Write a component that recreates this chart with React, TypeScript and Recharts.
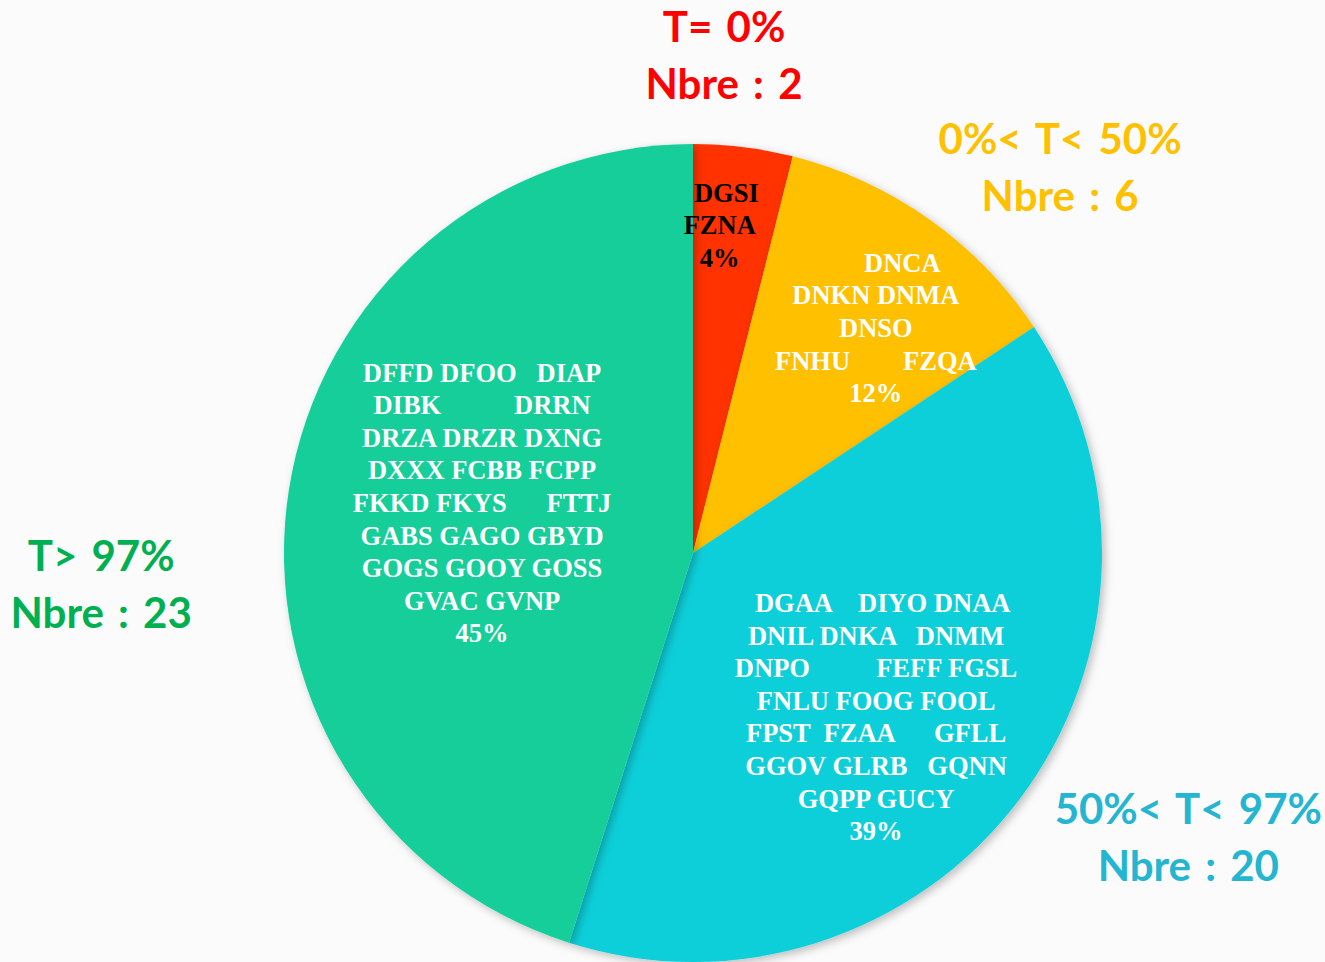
import React from 'react';
import { PieChart, Pie, Cell } from 'recharts';

// categories (title, count line) and slice values
const categories = ['T= 0%', '0%< T< 50%', '50%< T< 97%', 'T> 97%'];
const counts = [2, 6, 20, 23];

// station codes shown inside each slice, one entry per text line
const redCodes = ['  DGSI', 'FZNA'];
const orangeCodes = ['        DNCA', 'DNKN DNMA', 'DNSO', 'FNHU        FZQA'];
const cyanCodes = [
    '  DGAA    DIYO DNAA',
    'DNIL DNKA   DNMM',
    'DNPO          FEFF FGSL',
    'FNLU FOOG FOOL',
    'FPST  FZAA      GFLL',
    'GGOV GLRB   GQNN',
    'GQPP GUCY',
];
const greenCodes = [
    'DFFD DFOO   DIAP',
    'DIBK           DRRN',
    'DRZA DRZR DXNG',
    'DXXX FCBB FCPP',
    'FKKD FKYS      FTTJ',
    'GABS GAGO GBYD',
    'GOGS GOOY GOSS',
    'GVAC GVNP',
];
const sliceCodes = [redCodes, orangeCodes, cyanCodes, greenCodes];

const sliceColors = ['#ff3300', '#ffc000', '#0ecfd9', '#13ce99'];
const titleColors = ['#ff0000', '#ffc000', '#24b5d0', '#00b050'];
const codeColors = ['#000000', '#ffffff', '#ffffff', '#ffffff'];

const data = categories.map((name, i) => ({ name, value: counts[i] }));

// label placement: fraction of the radius and angle tweak (degrees)
const codeLayout = [
    { radius: 0.804, dAngle: 2.4 },
    { radius: 0.709, dAngle: -3.8 },
    { radius: 0.601, dAngle: -4.8 },
    { radius: 0.53, dAngle: -4.5 },
];
const titleLayout = [
    { radius: 1.222, dAngle: 3.5 },
    { radius: 1.304, dAngle: -8.2 },
    { radius: 1.395, dAngle: 7.3 },
    { radius: 1.449, dAngle: 11.8 },
];

const RAD = Math.PI / 180;

const renderLabel = (props: any) => {
    const { cx, cy, midAngle, outerRadius, percent, index } = props;

    const cl = codeLayout[index];
    const a = (midAngle + cl.dAngle) * RAD;
    const r = outerRadius * cl.radius;
    const x = cx + r * Math.cos(a);
    const y = cy - r * Math.sin(a);
    const lines = [...sliceCodes[index], `${Math.round(percent * 100)}%`];
    const lh = 32.6;
    const y0 = y - ((lines.length - 1) * lh) / 2;

    const tl = titleLayout[index];
    const ta = (midAngle + tl.dAngle) * RAD;
    const tr = outerRadius * tl.radius;
    const tx = cx + tr * Math.cos(ta);
    const ty = cy - tr * Math.sin(ta);
    const th = 57;

    return (
        <g key={`lbl-${index}`}>
            <text
                x={x}
                textAnchor="middle"
                fill={codeColors[index]}
                fontFamily="'Liberation Serif', serif"
                fontWeight="bold"
                fontSize={26.5}
                style={{ whiteSpace: 'pre' }}
            >
                {lines.map((l, i) => (
                    <tspan key={i} x={x} y={y0 + i * lh} dominantBaseline="central">
                        {l}
                    </tspan>
                ))}
            </text>
            <text
                textAnchor="middle"
                fill={titleColors[index]}
                fontFamily="Lato, sans-serif"
                fontWeight="bold"
                fontSize={42}
                wordSpacing={4}
            >
                <tspan x={tx} y={ty - th / 2} dominantBaseline="central">
                    {categories[index]}
                </tspan>
                <tspan x={tx} y={ty + th / 2} dominantBaseline="central">
                    {`Nbre : ${counts[index]}`}
                </tspan>
            </text>
        </g>
    );
};

export default function App() {
    return (
        <div style={{ width: 1325, height: 962, background: '#fbfbfb' }}>
            <style>{'body{margin:0}'}</style>
            <PieChart width={1325} height={962} margin={{ top: 0, right: 0, bottom: 0, left: 0 }}>
                <defs>
                    <filter id="pieShadow" x="-10%" y="-10%" width="120%" height="120%">
                        <feDropShadow dx="3" dy="3" stdDeviation="4" floodColor="#000" floodOpacity="0.25" />
                    </filter>
                </defs>
                <Pie
                    data={data}
                    dataKey="value"
                    nameKey="name"
                    cx={693}
                    cy={553}
                    outerRadius={409}
                    startAngle={90}
                    endAngle={-270}
                    stroke="none"
                    label={renderLabel}
                    labelLine={false}
                    isAnimationActive={false}
                    style={{ filter: 'url(#pieShadow)' }}
                >
                    {data.map((d, i) => (
                        <Cell key={d.name} fill={sliceColors[i]} />
                    ))}
                </Pie>
            </PieChart>
        </div>
    );
}
